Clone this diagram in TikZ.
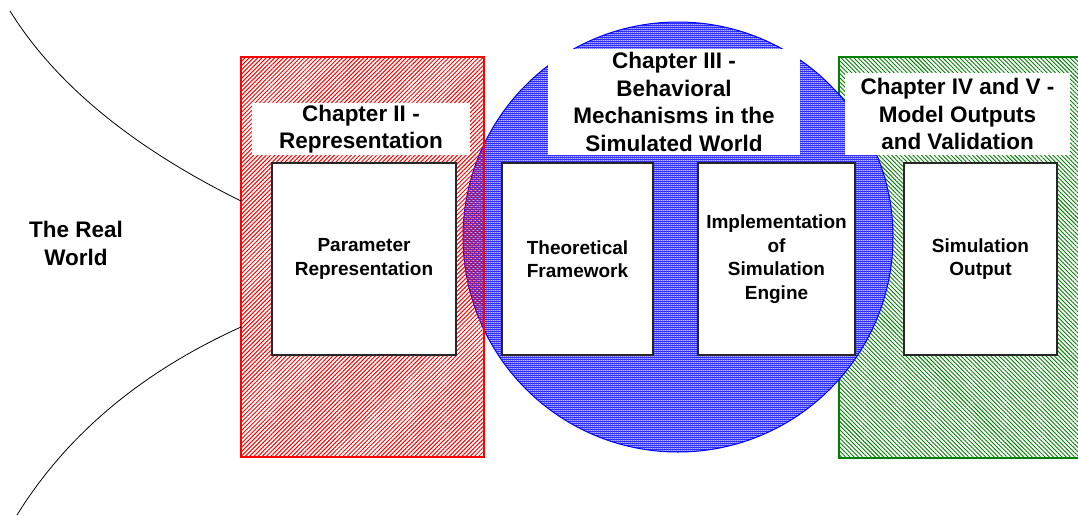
\documentclass[tikz,border=0pt]{standalone}
\usepackage{fontspec}
\setmainfont{Liberation Sans}
\usetikzlibrary{patterns.meta}
\definecolor{dgreen}{RGB}{0,128,0}
\definecolor{lblue}{RGB}{165,165,255}
\tikzdeclarepattern{
  name=bluetex,
  type=colored,
  bottom left={(0pt,0pt)},
  top right={(2pt,2pt)},
  tile size={(2pt,2pt)},
  code={
    \fill[blue] (0pt,0pt) rectangle (2pt,1pt);
    \fill[blue] (0pt,1pt) rectangle (1pt,2pt);
  }
}
\begin{document}
\begin{tikzpicture}[x=1pt,y=-1pt,
  region/.style={rectangle, inner sep=0pt, outer sep=0pt, line width=1.2pt},
  titlebox/.style={rectangle, fill=white, inner sep=0pt, align=center,
    font=\fontsize{22.5}{27.5}\selectfont\bfseries},
  innerbox/.style={rectangle, draw=black!85, line width=1.1pt, fill=white, inner sep=0pt,
    align=center, minimum height=192pt, font=\fontsize{19}{23.5}\selectfont\bfseries},
  worldcurve/.style={draw=black, line width=0.8pt}]
\clip (0,0) rectangle (1078,515);
\useasboundingbox (0,0) rectangle (1078,515);

% regions
\node[region, draw=dgreen, minimum width=251pt, minimum height=401pt,
  pattern={Lines[angle=-45,distance=3pt,line width=0.9pt]}, pattern color=dgreen]
  (green) at (964.5,257.5) {};
\fill[lblue] (678,237) circle[radius=215pt];
\node[circle, inner sep=0pt, minimum size=430pt, draw=blue, line width=1pt,
  pattern=bluetex]
  (circ) at (678,237) {};
\node[region, draw=red, minimum width=243pt, minimum height=400pt,
  pattern={Lines[angle=45,distance=3pt,line width=1pt]}, pattern color=red]
  (red) at (362.5,257) {};

% the real world
\node[font=\fontsize{22.5}{27.5}\selectfont\bfseries, align=center] (real) at (76,243.5) {The Real\\World};
\coordinate (ua) at (10,11);
\coordinate (ub) at ([yshift=56pt]red.west);
\coordinate (la) at ([yshift=-70pt]red.west);
\coordinate (lb) at (17,515);
\path[worldcurve] (ua) .. controls (55.3,83.7) and (131.7,147) .. (ub);
\path[worldcurve] (la) .. controls (142,371.7) and (67,434.3) .. (lb);

% titles
\node[titlebox, minimum width=218pt, minimum height=52pt] (t2) at (361,129)
  {Chapter II -\\Representation};
\node[titlebox, minimum width=252pt, minimum height=106pt] (t3) at (674,102)
  {Chapter III -\\Behavioral\\Mechanisms in the\\Simulated World};
\node[titlebox, minimum width=225pt, minimum height=82pt] (t45) at (957.5,114)
  {Chapter IV and V -\\Model Outputs\\and Validation};

% inner boxes
\node[innerbox, minimum width=184pt] (param) at (364,259) {Parameter\\Representation};
\node[innerbox, minimum width=151pt] (theo) at (577.5,259) {Theoretical\\Framework};
\node[innerbox, minimum width=157pt] (impl) at (776.5,259) {Implementation\\of\\Simulation\\Engine};
\node[innerbox, minimum width=153pt] (simout) at (980.5,259) {Simulation\\Output};
\end{tikzpicture}
\end{document}
